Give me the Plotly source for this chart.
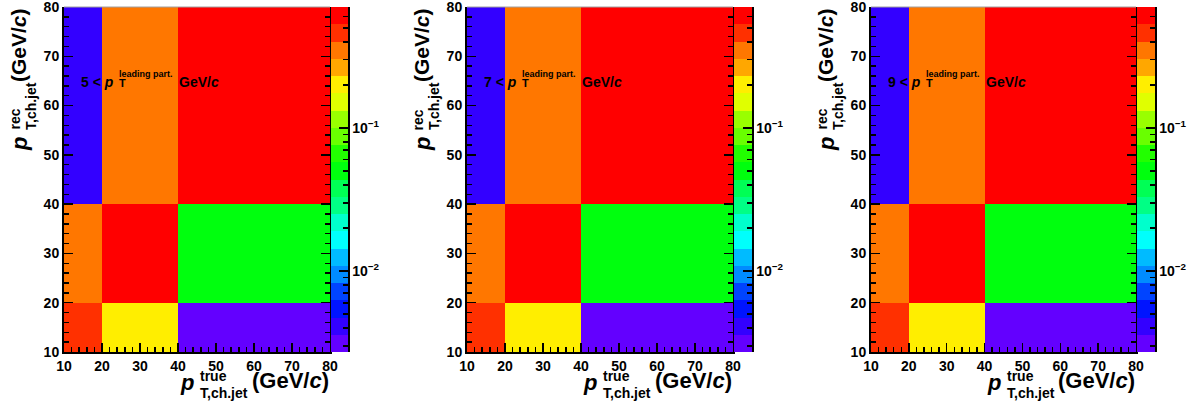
import colorsys
import numpy as np
import plotly.graph_objects as go

# ---------------- data ----------------
x_edges = [10, 20, 40, 80]          # p_T,ch.jet^true bin edges (GeV/c)
y_edges = [10, 20, 40, 80]          # p_T,ch.jet^rec bin edges (GeV/c)
leading_cuts = [5, 7, 9]            # leading-particle p_T thresholds (GeV/c)
# rows = rec bins (10-20, 20-40, 40-80); columns = true bins (10-20, 20-40, 40-80)
resp_lead5 = [[0.46, 0.20, 0.0031],
              [0.35, 0.61, 0.049],
              [0.0041, 0.35, 0.61]]
resp_lead7 = [[0.46, 0.20, 0.0031],
              [0.35, 0.61, 0.049],
              [0.0041, 0.35, 0.61]]
resp_lead9 = [[0.46, 0.20, 0.0031],
              [0.35, 0.61, 0.049],
              [0.0041, 0.35, 0.61]]
axis_ticks = [10, 20, 30, 40, 50, 60, 70, 80]
axis_minor = [12, 14, 16, 18, 22, 24, 26, 28, 32, 34, 36, 38, 42, 44, 46, 48,
              52, 54, 56, 58, 62, 64, 66, 68, 72, 74, 76, 78]
z_min, z_max = 0.00272, 0.70        # colour-scale range
n_levels = 20                       # number of colour contours
palette_major = [0.01, 0.1]
palette_major_text = ["10<sup>−2</sup>", "10<sup>−1</sup>"]
palette_minor = [m * 10.0 ** e for e in (-3, -2, -1) for m in range(2, 10)]

responses = [resp_lead5, resp_lead7, resp_lead9]

# ---------------- style / geometry ----------------
W, H = 1200, 405
FONT = "Liberation Sans, Arial, sans-serif"
lefts = [64, 467, 871]
rights = [330, 733, 1136]
pal_rights = [348, 752, 1155]
top_px, bottom_px = 7, 352


def root_pretty(j):
    hue = max(280 - (j + 1) * 5.6, 0.0)
    r, g, b = colorsys.hls_to_rgb(hue / 360.0, 0.5, 1.0)
    return f"rgb({round(r * 255)},{round(g * 255)},{round(b * 255)})"


band_colors = [root_pretty(int((k + 0.99) * 50 / n_levels)) for k in range(n_levels)]
colorscale = []
for k, c in enumerate(band_colors):
    colorscale += [[k / n_levels, c], [(k + 1) / n_levels, c]]

lz0, lz1 = np.log10(z_min), np.log10(z_max)
level_edges = np.linspace(lz0, lz1, n_levels + 1)
level_centers = 0.5 * (level_edges[:-1] + level_edges[1:])
in_range_minor = [v for v in palette_minor if z_min <= v <= z_max]

fig = go.Figure()
layout_axes = {}
shapes = []
annotations = []

tick_font = dict(family=FONT, size=14, color="black", weight="bold")
y_dom = [1 - bottom_px / H, 1 - top_px / H]


def label(px, py, text, size, xanchor="center", yanchor="middle", angle=0):
    annotations.append(dict(
        x=px / W, y=1 - py / H, xref="paper", yref="paper", text=text,
        showarrow=False, xanchor=xanchor, yanchor=yanchor, textangle=angle,
        borderpad=0,
        font=dict(family=FONT, size=size, color="black", weight="bold")))


for i, (cut, resp) in enumerate(zip(leading_cuts, responses)):
    m, p = 2 * i + 1, 2 * i + 2
    xm = "x" if m == 1 else f"x{m}"
    ym = "y" if m == 1 else f"y{m}"
    xp, yp = f"x{p}", f"y{p}"
    xm_key = "xaxis" if m == 1 else f"xaxis{m}"
    ym_key = "yaxis" if m == 1 else f"yaxis{m}"

    fig.add_trace(go.Heatmap(
        x=x_edges, y=y_edges, z=np.log10(np.array(resp)),
        xaxis=xm, yaxis=ym, colorscale=colorscale, zmin=lz0, zmax=lz1,
        showscale=False, hoverinfo="skip"))
    fig.add_trace(go.Heatmap(
        x=[0, 1], y=level_edges, z=[[c] for c in level_centers],
        xaxis=xp, yaxis=yp, colorscale=colorscale, zmin=lz0, zmax=lz1,
        showscale=False, hoverinfo="skip"))

    L, R, PR = lefts[i], rights[i], pal_rights[i]
    minor_main = dict(tickmode="array", tickvals=axis_minor, ticks="inside",
                      ticklen=5, tickwidth=1.5, tickcolor="black", showgrid=False)
    layout_axes[xm_key] = dict(
        domain=[L / W, R / W], range=[10, 80], anchor=ym,
        tickmode="array", tickvals=axis_ticks, ticks="inside", ticklen=9,
        tickwidth=1.5, tickcolor="black", showline=True, linecolor="black",
        linewidth=2, showgrid=False, zeroline=False, tickfont=tick_font,
        minor=minor_main, fixedrange=True, automargin=False,
        ticklabeloverflow="allow")
    layout_axes[ym_key] = dict(
        domain=y_dom, range=[10, 80], anchor=xm,
        tickmode="array", tickvals=axis_ticks, ticks="inside", ticklen=9,
        tickwidth=1.5, tickcolor="black", showline=True, linecolor="black",
        linewidth=2, mirror="ticks", showgrid=False, zeroline=False,
        tickfont=tick_font, minor=minor_main, fixedrange=True,
        automargin=False, ticklabeloverflow="allow")
    layout_axes[f"xaxis{p}"] = dict(
        domain=[(R + 1) / W, PR / W], range=[0, 1], anchor=yp, visible=False,
        fixedrange=True, automargin=False)
    layout_axes[f"yaxis{p}"] = dict(
        domain=y_dom, range=[lz0, lz1], anchor=xp, side="right",
        tickmode="array", tickvals=list(np.log10(palette_major)),
        ticktext=palette_major_text, ticks="inside", ticklen=9, tickwidth=1.5,
        tickcolor="black", showline=True, linecolor="black", linewidth=1.5,
        showgrid=False, zeroline=False, tickfont=tick_font, fixedrange=True,
        automargin=False, ticklabeloverflow="allow",
        minor=dict(tickmode="array", tickvals=list(np.log10(in_range_minor)),
                   ticks="inside", ticklen=5, tickwidth=1.5, tickcolor="black",
                   showgrid=False))

    shapes.append(dict(type="line", xref=f"{xm} domain", yref=f"{ym} domain",
                       x0=0, x1=1, y0=1, y1=1,
                       line=dict(color="#a0a0a0", width=1)))

    # x-axis title
    label(L + 131, 382, "<i>p</i>", 22, xanchor="right")
    label(L + 135, 376, "true", 14, xanchor="left")
    label(L + 135, 393, "T,ch.jet", 14, xanchor="left")
    label(R, 380, "(GeV/<i>c</i>)", 22, xanchor="right")
    # y-axis title (rotated)
    label(L - 45, 152, "<i>p</i>", 22, yanchor="bottom", angle=-90)
    label(L - 50, 131, "rec", 14, yanchor="bottom", angle=-90)
    label(L - 33, 131, "T,ch.jet", 14, yanchor="bottom", angle=-90)
    label(L - 45, 7, "(GeV/<i>c</i>)", 21, yanchor="top", angle=-90)
    # in-plot text
    label(L + 51, 82, f"{cut} &lt; <i>p</i>", 14, xanchor="right")
    label(L + 54, 83, "T", 11, xanchor="left")
    label(L + 54, 74, "leading part.", 9, xanchor="left")
    label(L + 114, 82, "GeV/<i>c</i>", 14, xanchor="left")

fig.update_layout(
    width=W, height=H, autosize=False,
    margin=dict(l=0, r=0, t=0, b=0, pad=0, autoexpand=False),
    paper_bgcolor="white", plot_bgcolor="white",
    showlegend=False, shapes=shapes, annotations=annotations,
    **layout_axes)

fig.write_html("out.html",
               config={"displayModeBar": False, "staticPlot": True},
               post_script="document.body.style.margin='0px';")
